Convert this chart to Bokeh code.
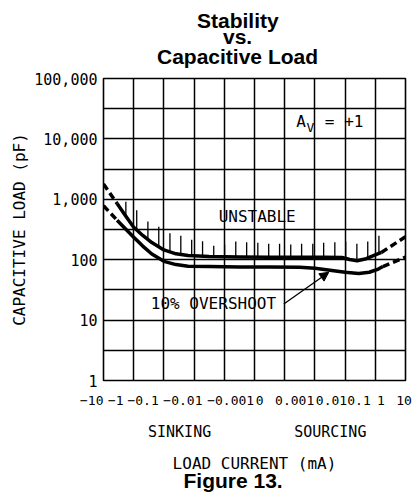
import numpy as np
from bokeh.plotting import figure
from bokeh.models import FixedTicker, Range1d, Label, Arrow, NormalHead, LinearAxis, Title
from bokeh.embed import file_html
from bokeh.resources import INLINE

MONO = "DejaVu Sans Mono"
BOLD = "Liberation Sans"
NB = "\u00a0"

# x axis: folded decade scale, slot 0 = -10 mA ... slot 5 = 0 ... slot 10 = +10 mA
x_slots = list(range(11))
x_tick_labels = ["\u221210" + NB * 3, "\u22121", "\u22120.1", "\u22120.01", "\u22120.001", "0",
                 "0.001", "0.01", "0.1", "1", "10"]
# centre of each printed label, in slot units
x_tick_pos = [0.0, 0.41, 1.31, 2.63, 4.21, 5.17, 6.33, 7.55, 8.46, 9.19, 9.95]

side_labels = ["SINKING", "SOURCING"]
side_pos = [2.52, 7.51]

y_ticks = [1, 10, 100, 1000, 10000, 100000]
y_tick_labels = ["1", "10", "100", "1,000", "10,000", "100,000"]
y_grid = [1, 3.162, 10, 31.62, 100, 316.2, 1000, 3162, 10000, 31623, 100000]

# stability boundary (upper curve) and 10% overshoot (lower curve), pF
unstable_x = [0.0, 0.45, 0.7, 1.0, 1.3, 1.6, 2.0, 2.4, 2.8, 3.5, 4.5, 5.5, 6.5,
              7.3, 7.9, 8.15, 8.4, 8.7, 9.0, 9.2, 10.0]
unstable_pf = [1800, 850, 560, 345, 252, 192, 145, 125, 117, 113, 111, 110, 110,
               110, 109, 101, 96, 104, 120, 132, 240]

overshoot_x = [0.0, 0.45, 0.7, 1.0, 1.3, 1.6, 2.0, 2.4, 2.8, 3.5, 4.5, 5.5, 6.5,
               7.0, 7.5, 8.0, 8.45, 8.8, 9.1, 9.25, 10.0]
overshoot_pf = [780, 450, 336, 236, 168, 124, 94, 83, 78, 77, 76, 76, 75,
                72, 67, 62, 59, 62, 70, 77, 110]

# hatch marks on the unstable side
hatch_x = [0.74, 1.10, 1.47, 1.83, 2.20, 2.56, 2.92, 3.28, 3.65, 4.01, 4.38, 4.74,
           5.11, 5.47, 5.83, 6.20, 6.56, 6.93, 7.29, 7.66, 8.02, 8.39, 8.75, 9.12]
hatch_top_pf = [915, 660, 430, 352, 273, 250, 213, 202, 171, 178, 200, 195,
                190, 183, 183, 178, 183, 183, 190, 195, 200, 183, 200, 250]

arrow_start = (5.97, 18.5)
arrow_end = (7.46, 62.0)

p = figure(width=414, height=495, output_backend="svg", toolbar_location=None,
           x_range=Range1d(0, 10), y_range=Range1d(1, 100000), y_axis_type="log",
           min_border_left=103, min_border_right=9, min_border_top=78, min_border_bottom=115)
p.title = None
p.background_fill_color = "white"
p.border_fill_color = "white"
p.outline_line_color = "black"
p.outline_line_width = 1.6


def plain_axis(ax):
    ax.axis_line_color = None
    ax.major_tick_line_color = None
    ax.minor_tick_line_color = None
    ax.major_tick_out = 0
    ax.major_tick_in = 0
    ax.minor_tick_out = 0
    ax.minor_tick_in = 0
    ax.major_label_text_color = "black"
    ax.axis_label_text_color = "black"
    ax.axis_label_text_font = MONO
    ax.axis_label_text_font_style = "normal"
    ax.axis_label_text_font_size = "16px"


for ax in (p.xaxis, p.yaxis):
    plain_axis(ax)

p.xaxis.ticker = FixedTicker(ticks=x_tick_pos)
p.xaxis.major_label_overrides = {a: t for a, t in zip(x_tick_pos, x_tick_labels)}
p.xaxis.major_label_text_font = MONO
p.xaxis.major_label_text_font_size = "13px"
p.xaxis.major_label_standoff = 12

side_axis = LinearAxis(ticker=FixedTicker(ticks=side_pos),
                       major_label_overrides={a: t for a, t in zip(side_pos, side_labels)})
plain_axis(side_axis)
side_axis.major_label_text_font = MONO
side_axis.major_label_text_font_size = "15px"
side_axis.major_label_standoff = 12
side_axis.axis_label = "LOAD CURRENT (mA)"
side_axis.axis_label_standoff = 10
p.add_layout(side_axis, "below")

p.yaxis.ticker = FixedTicker(ticks=y_ticks)
p.yaxis.major_label_overrides = {v: t for v, t in zip(y_ticks, y_tick_labels)}
p.yaxis.major_label_text_font = MONO
p.yaxis.major_label_text_font_size = "15px"
p.yaxis.major_label_standoff = 6
p.yaxis.axis_label = "CAPACITIVE LOAD (pF)"
p.yaxis.axis_label_standoff = 2

p.xgrid.ticker = FixedTicker(ticks=x_slots)
p.ygrid.ticker = FixedTicker(ticks=y_grid)
for g in (p.xgrid, p.ygrid):
    g.grid_line_color = "black"
    g.grid_line_alpha = 1.0
    g.grid_line_width = 1.5

# blank gap between the plot box and the title block
gap_axis = LinearAxis(ticker=FixedTicker(ticks=[5]), major_label_overrides={5: ""})
plain_axis(gap_axis)
gap_axis.major_tick_out = 10
gap_axis.major_label_standoff = 0
gap_axis.major_label_text_font_size = "1px"
p.add_layout(gap_axis, "above")

title_kw = dict(text_font=BOLD, text_font_style="bold", text_font_size="21px",
                text_color="black", align="left", vertical_align="bottom")
p.add_layout(Title(text="Capacitive Load", offset=53.5, standoff=1, **title_kw), "above")
p.add_layout(Title(text="vs.", offset=119.5, standoff=-10, **title_kw), "above")
p.add_layout(Title(text="Stability", offset=93.5, standoff=-8, **title_kw), "above")
title_kw["vertical_align"] = "top"
p.add_layout(Title(text="Figure 13.", offset=80, standoff=-14, **title_kw), "below")


def draw_curve(xs, ys):
    kw = dict(line_color="black", line_width=3.5, line_join="round")
    p.line(xs[:2], ys[:2], line_dash="7 4", **kw)
    p.line(xs[1:-1], ys[1:-1], **kw)
    p.line(xs[-2:], ys[-2:], line_dash="7 4", **kw)


draw_curve(unstable_x, unstable_pf)
draw_curve(overshoot_x, overshoot_pf)

hatch_base = 10 ** np.interp(hatch_x, unstable_x, np.log10(unstable_pf))
p.segment(x0=hatch_x, y0=list(hatch_base), x1=hatch_x, y1=hatch_top_pf,
          line_color="black", line_width=1.3)

p.add_layout(Arrow(end=NormalHead(size=9, fill_color="black", line_color="black"),
                   x_start=arrow_start[0], y_start=arrow_start[1],
                   x_end=arrow_end[0], y_end=arrow_end[1],
                   line_color="black", line_width=1.3))


def data_text(x, y, txt, size="16px", align="center"):
    p.add_layout(Label(x=x, y=y, text=txt, text_font=MONO, text_font_size=size,
                       text_align=align, text_baseline="middle", text_color="black"))


data_text(5.09, 519, "UNSTABLE")
data_text(3.64, 18.5, "10% OVERSHOOT")
data_text(6.54, 19450, "A")
data_text(6.85, 15300, "V", size="13px")
data_text(7.33, 19450, "=  +1", align="left")

open("out.html", "w").write(file_html(p, INLINE))
